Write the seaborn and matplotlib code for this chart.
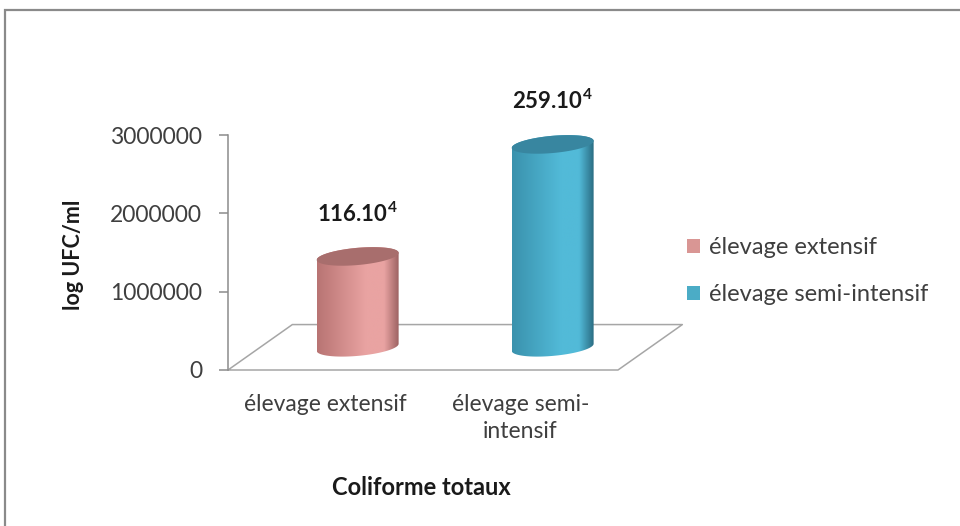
import numpy as np
import pandas as pd
import matplotlib
matplotlib.use("Agg")
import matplotlib.pyplot as plt
from matplotlib.patches import Polygon, Patch, Rectangle
from matplotlib.colors import LinearSegmentedColormap
import seaborn as sns

# Data
categories = ["élevage extensif", "élevage semi-intensif"]
tick_labels = ["élevage extensif", "élevage semi-\nintensif"]
values = [116e4, 259e4]
base_colors = ["#D99694", "#4BACC6"]
# side shading of each cylinder: left edge, highlight, right edge, top cap
shades = [
    ["#b87473", "#e9a3a2", "#9c6262", "#a86e6d"],
    ["#3a92ad", "#52bad8", "#2a6c82", "#3886a0"],
]

sns.set_theme(style="white")
plt.rcParams["font.family"] = ["Lato", "DejaVu Sans"]
plt.rcParams["mathtext.fontset"] = "custom"
plt.rcParams["mathtext.rm"] = "Lato"
plt.rcParams["mathtext.bf"] = "Lato:bold"

fig = plt.figure(figsize=(9.6, 5.26), dpi=100)
ax = fig.add_axes([228 / 960, (526 - 370) / 526, 390 / 960, 235 / 526])

df = pd.DataFrame({"cat": categories, "val": values})
bar_w = 0.42
sns.barplot(data=df, x="cat", y="val", hue="cat", palette=base_colors,
            width=bar_w, ax=ax, legend=False)

ax.set_xlim(-0.5, 1.5)
ax.set_ylim(0, 3e6)

# depth of the 3-D floor, in data units
depth_x = 0.33
depth_y = 0.58e6

# floor outline
fx = [-0.5, 1.5, 1.5 + depth_x, -0.5 + depth_x, -0.5]
fy = [0, 0, depth_y, depth_y, 0]
ax.plot(fx, fy, color="#a6a6a6", lw=1.1, clip_on=False, zorder=1)

# cylinders drawn over the bar geometry
b_ell = 0.11e6   # half height of the elliptical caps
k_ell = 0.045e6  # tilt of the caps
for i, bar in enumerate(ax.patches):
    bar.set_visible(False)
    cx = bar.get_x() + bar.get_width() / 2 + depth_x / 2
    a = bar.get_width() / 2
    y0 = depth_y / 2
    y1 = y0 + bar.get_height()

    t_up = np.linspace(np.pi, 0, 60)
    t_dn = np.linspace(0, -np.pi, 60)
    top_x = cx + a * np.cos(t_up)
    top_y = y1 + b_ell * np.sin(t_up) + k_ell * np.cos(t_up)
    bot_x = cx + a * np.cos(t_dn)
    bot_y = y0 + b_ell * np.sin(t_dn) + k_ell * np.cos(t_dn)
    body = np.column_stack([np.r_[top_x, bot_x], np.r_[top_y, bot_y]])
    body_patch = Polygon(body, closed=True, facecolor="none",
                         edgecolor="none", zorder=3)
    ax.add_patch(body_patch)

    left, mid, right, cap = shades[i]
    cmap = LinearSegmentedColormap.from_list(
        f"cyl{i}", [(0, left), (0.6, mid), (0.82, mid), (1, right)])
    grad = np.linspace(0, 1, 256)[None, :]
    im = ax.imshow(grad, cmap=cmap, aspect="auto", interpolation="bilinear",
                   extent=[cx - a, cx + a, y0 - b_ell - k_ell, y1 + b_ell + k_ell],
                   origin="lower", zorder=3)
    im.set_clip_path(body_patch)

    t = np.linspace(0, 2 * np.pi, 120)
    cap_xy = np.column_stack([cx + a * np.cos(t),
                              y1 + b_ell * np.sin(t) + k_ell * np.cos(t)])
    ax.add_patch(Polygon(cap_xy, closed=True, facecolor=cap,
                         edgecolor="none", zorder=4))

    v = values[i]
    ax.annotate(rf"$\mathbf{{{v / 1e4:.0f}.10^{{4}}}}$", xy=(cx, y1),
                xytext=(0, 31), textcoords="offset points",
                ha="center", va="center", fontsize=16, color="#1a1a1a",
                zorder=5)

ax.set_xlim(-0.5, 1.5)
ax.set_ylim(0, 3e6)

# axes styling
for side in ["top", "right", "bottom"]:
    ax.spines[side].set_visible(False)
ax.spines["left"].set_color("#8c8c8c")
ax.spines["left"].set_linewidth(1.1)
ax.set_yticks([0, 1e6, 2e6, 3e6])
ax.set_yticklabels([f"{v:.0f}" for v in [0, 1e6, 2e6, 3e6]])
ax.tick_params(axis="y", left=True, length=6.5, width=1.1, color="#8c8c8c",
               pad=12, labelsize=16.5, labelcolor="#3f3f3f")
ax.set_xticks([0, 1])
ax.set_xticklabels(tick_labels, linespacing=1.4)
ax.tick_params(axis="x", bottom=False, length=0, pad=17, labelsize=16.5,
               labelcolor="#3f3f3f")

ax.set_xlabel("Coliforme totaux", fontsize=17, fontweight="bold",
              color="#1a1a1a")
ax.xaxis.set_label_coords(0.497, -0.45)
ax.set_ylabel("log UFC/ml", fontsize=15.5, fontweight="bold", color="#1a1a1a")
ax.yaxis.set_label_coords(-0.37, 0.49)

handles = [Patch(facecolor=c, edgecolor="none", label=l)
           for c, l in zip(base_colors, categories)]
ax.legend(handles=handles, loc="center left",
          bbox_to_anchor=(687 / 960, 1 - 271 / 526),
          bbox_transform=fig.transFigure, frameon=False, fontsize=17,
          handlelength=0.55, handleheight=0.55, handletextpad=0.4,
          labelspacing=1.1, borderpad=0, borderaxespad=0,
          labelcolor="#3f3f3f")

# chart area border
fig.patches.append(Rectangle((5 / 960, -0.1), 1.2, 1 - 10 / 526 + 0.1,
                             transform=fig.transFigure, fill=False,
                             edgecolor="#8a8a8a", lw=1.6, zorder=0))

fig.savefig("out.png", dpi=100)
